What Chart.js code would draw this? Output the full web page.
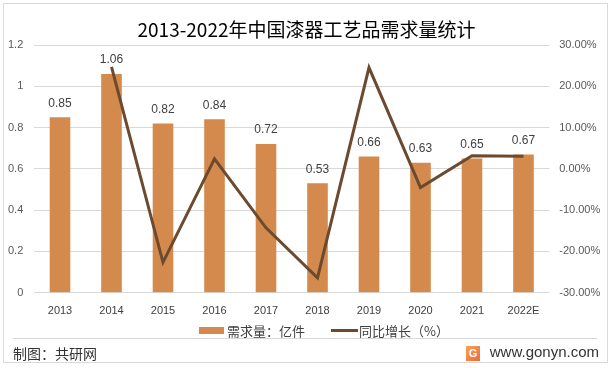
<!DOCTYPE html>
<html>
<head>
<meta charset="utf-8">
<script src="https://cdn.jsdelivr.net/npm/chart.js@4/dist/chart.umd.min.js"></script>
<style>
html,body{margin:0;padding:0;background:#fff;}
#wrap{width:613px;height:368px;position:relative;}
canvas{display:block;}
</style>
</head>
<body>
<div id="wrap"><canvas id="c" width="613" height="368"></canvas></div>
<script>
const categories = ['2013','2014','2015','2016','2017','2018','2019','2020','2021','2022E'];
const demand = [0.85,1.06,0.82,0.84,0.72,0.53,0.66,0.63,0.65,0.67];
const growth = [null,24.71,-22.64,2.44,-14.29,-26.39,24.53,-4.55,3.17,3.08];
const leftTicks = [0,0.2,0.4,0.6,0.8,1,1.2];
const rightTicks = [-30,-20,-10,0,10,20,30];
const titleText = '2013-2022年中国漆器工艺品需求量统计';
const demandLabel = '需求量：亿件';
const growthLabel = '同比增长（%）';
const sourceText = '制图：共研网';
const siteText = 'www.gonyn.com';

const BAR = '#D38A4C';
const LINE = '#6B4A2F';
const TXT = '#595959';
const FONT = '"Liberation Sans", Arial, sans-serif';
const CJK = '"Noto Sans CJK SC", "Noto Sans", sans-serif';

const decor = {
  id: 'decor',
  beforeDraw(chart) {
    const ctx = chart.ctx;
    ctx.save();
    ctx.fillStyle = '#fff';
    ctx.fillRect(0, 0, 613, 368);
    ctx.restore();
  },
  beforeDatasetsDraw(chart) {
    const ctx = chart.ctx;
    const meta = chart.getDatasetMeta(1);
    ctx.save();
    ctx.font = '12px ' + FONT;
    ctx.fillStyle = '#404040';
    ctx.textAlign = 'center';
    ctx.textBaseline = 'middle';
    meta.data.forEach((el, i) => {
      ctx.fillText(demand[i].toFixed(2), el.x, el.y - 14);
    });
    ctx.restore();
  },
  afterDraw(chart) {
    const ctx = chart.ctx;
    ctx.save();
    // frame
    ctx.strokeStyle = '#d9d9d9';
    ctx.lineWidth = 1;
    ctx.strokeRect(3.5, 3.5, 604, 359);
    // title
    ctx.fillStyle = '#000';
    ctx.font = '19px ' + CJK;
    ctx.textAlign = 'center';
    ctx.textBaseline = 'middle';
    ctx.fillText(titleText, 306.5, 30);
    // legend
    ctx.fillStyle = BAR;
    ctx.fillRect(199, 327, 25, 7);
    ctx.fillStyle = '#404040';
    ctx.font = '13px ' + CJK;
    ctx.textAlign = 'left';
    ctx.fillText(demandLabel, 227, 331);
    ctx.strokeStyle = LINE;
    ctx.lineWidth = 3;
    ctx.beginPath();
    ctx.moveTo(331, 330.5);
    ctx.lineTo(358, 330.5);
    ctx.stroke();
    ctx.fillText(growthLabel, 359, 331);
    // footer separator
    ctx.strokeStyle = '#d9d9d9';
    ctx.lineWidth = 1;
    ctx.beginPath();
    ctx.moveTo(13, 338.5);
    ctx.lineTo(597, 338.5);
    ctx.stroke();
    ctx.fillStyle = '#333';
    ctx.font = '14px ' + CJK;
    ctx.fillText(sourceText, 13, 354);
    ctx.textAlign = 'right';
    ctx.font = '15px ' + FONT;
    ctx.fillText(siteText, 599, 353);
    // logo
    const g = ctx.createLinearGradient(466, 346, 480, 361);
    g.addColorStop(0, '#F7A25A');
    g.addColorStop(1, '#EE6B3B');
    ctx.fillStyle = g;
    ctx.fillRect(466, 346, 14, 15);
    ctx.fillStyle = '#fff';
    ctx.font = 'bold 11px ' + FONT;
    ctx.textAlign = 'center';
    ctx.fillText('G', 473, 354);
    ctx.restore();
  }
};

new Chart(document.getElementById('c'), {
  data: {
    labels: categories,
    datasets: [
      {
        type: 'line',
        label: growthLabel,
        data: growth,
        yAxisID: 'y1',
        borderColor: LINE,
        borderWidth: 3,
        pointRadius: 0,
        pointHoverRadius: 0,
        tension: 0,
        fill: false,
        order: 0,
        spanGaps: false
      },
      {
        type: 'bar',
        label: demandLabel,
        data: demand,
        yAxisID: 'y',
        backgroundColor: BAR,
        borderWidth: 0,
        categoryPercentage: 1,
        barPercentage: 0.4,
        order: 1
      }
    ]
  },
  options: {
    responsive: false,
    animation: false,
    devicePixelRatio: 1,
    layout: { padding: { top: 45, left: 0, right: 0, bottom: 0 } },
    plugins: { legend: { display: false }, title: { display: false }, tooltip: { enabled: false } },
    scales: {
      x: {
        type: 'category',
        grid: { display: false, drawTicks: false },
        border: { display: false },
        ticks: { color: '#404040', font: { size: 11, family: FONT }, padding: 12, maxRotation: 0, autoSkip: false },
        afterFit(s) { s.height = 75.3; }
      },
      y: {
        position: 'left',
        min: 0, max: 1.2,
        afterBuildTicks(s) { s.ticks = leftTicks.map(v => ({ value: v })); },
        grid: { color: '#d9d9d9', lineWidth: 1, drawTicks: false },
        border: { display: false },
        ticks: { color: TXT, font: { size: 11, family: FONT }, padding: 11,
          callback: v => String(parseFloat(Number(v).toFixed(1))) },
        afterFit(s) { s.width = 34.25; }
      },
      y1: {
        position: 'right',
        min: -30, max: 30,
        afterBuildTicks(s) { s.ticks = rightTicks.map(v => ({ value: v })); },
        grid: { display: false, drawTicks: false },
        border: { display: false },
        ticks: { color: TXT, font: { size: 11, family: FONT }, padding: 10,
          callback: v => Number(v).toFixed(2) + '%' },
        afterFit(s) { s.width = 63.75; }
      }
    }
  },
  plugins: [decor]
});
</script>
</body>
</html>
